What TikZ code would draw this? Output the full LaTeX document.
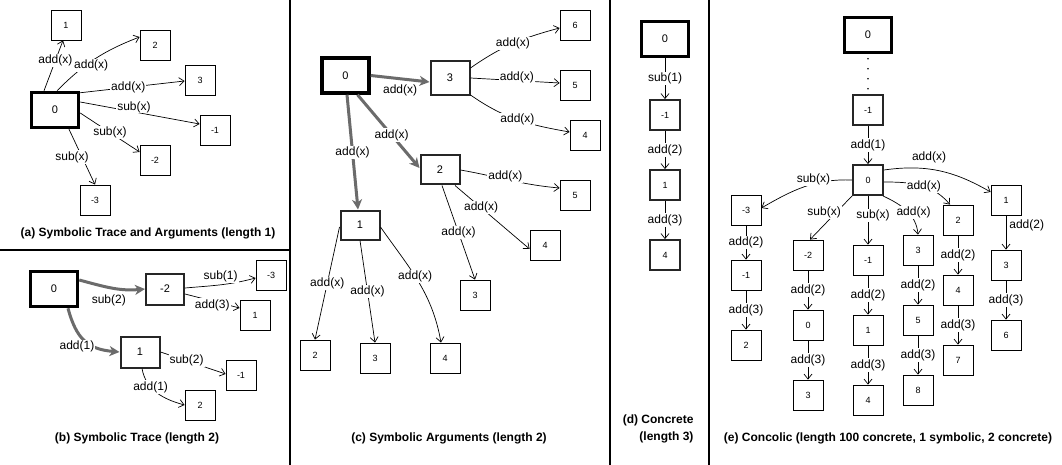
\documentclass[tikz,border=0pt]{standalone}
\usepackage{fontspec}
\setmainfont{Liberation Sans}
\usetikzlibrary{arrows.meta}
\definecolor{garrow}{HTML}{6B6B6B}
\begin{document}
\begin{tikzpicture}[x=1pt,y=1pt,
 box/.style={draw, line width=.8pt, minimum width=30pt, minimum height=30pt, inner sep=0pt, font=\fontsize{9}{9}\selectfont},
 midbox/.style={box, line width=2pt, draw=black!85, font=\fontsize{11}{11}\selectfont},
 msbox/.style={box, line width=1.8pt, draw=black!85},
 rootbox/.style={box, line width=3.5pt, minimum width=47pt, minimum height=35pt, font=\fontsize{11}{11}\selectfont},
 arr/.style={line width=.7pt, -{Straight Barb[length=5pt,width=8pt]}},
 garr/.style={draw=garrow, line width=3pt, -{Stealth[length=10pt,width=10pt,inset=3pt]}},
 lbl/.style={fill=white, inner sep=1pt, font=\fontsize{12}{12}\selectfont},
 captext/.style={font=\fontsize{12}{17}\selectfont\bfseries},
 divline/.style={line width=1.2pt}]
\fill[white] (0,0) rectangle (1062,-465);
\useasboundingbox (0,0) rectangle (1062,-465);
% dividers
\draw[divline] (290,0) -- (290,-465);
\draw[divline] (0,-250) -- (290,-250);
\draw[divline] (610,0) -- (610,-465);
\draw[divline] (709,0) -- (709,-465);

% ---------- (a)
\node[rootbox] (a0) at (55,-110) {0};
\node[box] (a1) at (66,-25) {1};
\node[box] (a2) at (155,-45) {2};
\node[box] (a3) at (200,-80) {3};
\node[box] (am1) at (215,-130) {-1};
\node[box] (am2) at (155,-160) {-2};
\node[box] (am3) at (95,-200) {-3};
\draw[arr] ([xshift=-11pt]a0.north) -- node[lbl,pos=.6] (la1) {add(x)} ([xshift=-3pt]a1.south);
\draw[arr] ([xshift=2pt]a0.north) to[bend left=12] node[lbl,pos=.45,yshift=-4pt] (la2) {add(x)} ([yshift=8pt]a2.west);
\draw[arr] ([yshift=-2pt]a0.north east) -- node[lbl,pos=.46] (la3) {add(x)} ([yshift=-1pt]a3.west);
\draw[arr] ([yshift=8pt]a0.east) -- node[lbl,pos=.45,yshift=5pt] (la4) {sub(x)} ([yshift=6pt]am1.west);
\draw[arr] ([yshift=-3pt]a0.east) -- node[lbl,pos=.5] (la5) {sub(x)} ([yshift=8pt]am2.west);
\draw[arr] ([xshift=14pt]a0.south) -- node[lbl,pos=.5,xshift=-10pt] (la6) {sub(x)} (am3.north);
\node[captext] (capa) at (148,-233) {(a) Symbolic Trace and Arguments (length 1)};

% ---------- (b)
\node[rootbox] (b0) at (54,-289) {0};
\node[midbox, minimum width=38pt, minimum height=31pt] (bm2) at (165,-289) {-2};
\node[box] (bm3) at (271,-275) {-3};
\node[box] (b1r) at (255,-315) {1};
\node[midbox, minimum width=39pt, minimum height=31pt] (b1) at (140,-352) {1};
\node[box] (bm1) at (241,-375) {-1};
\node[box] (b2) at (200,-405) {2};
\draw[garr] ([yshift=9pt]b0.east) to[out=-15,in=185] node[lbl,pos=.45,below=5pt] (lb1) {sub(2)} (bm2.west);
\draw[garr] ([xshift=14pt]b0.south) to[out=-75,in=175,looseness=1.2] node[lbl,pos=.5,xshift=-8pt,yshift=-6pt] (lb2) {add(1)} (b1.west);
\draw[arr] ([yshift=1pt]bm2.east) to[out=5,in=195] node[lbl,pos=.5,above=1pt] (lb3) {sub(1)} ([yshift=-3pt]bm3.west);
\draw[arr] ([yshift=-5pt]bm2.east) -- node[lbl,pos=.5,yshift=-4pt] (lb4) {add(3)} ([yshift=7pt]b1r.west);
\draw[arr] (b1.east) -- node[lbl,pos=.4] (lb5) {sub(2)} ([yshift=1pt]bm1.west);
\draw[arr] ([xshift=2pt]b1.south) to[out=-80,in=165] node[lbl,pos=.35] (lb6) {add(1)} (b2.west);
\node[captext] (capb) at (137,-438) {(b) Symbolic Trace (length 2)};

% ---------- (c)
\node[rootbox] (c0) at (345.5,-75.5) {0};
\node[midbox, minimum width=39pt, minimum height=34pt] (c3) at (450,-78) {3};
\node[box] (c6) at (575,-25) {6};
\node[box] (c5a) at (575,-85) {5};
\node[box] (c4a) at (585,-135) {4};
\node[midbox, minimum width=39pt, minimum height=29pt] (c2) at (440,-170) {2};
\node[box] (c5b) at (575,-195) {5};
\node[midbox, minimum width=39pt, minimum height=29pt] (c1) at (360,-225) {1};
\node[box] (c4b) at (545,-245) {4};
\node[box] (c3b) at (475,-295) {3};
\node[box] (c2c) at (315,-355) {2};
\node[box] (c3c) at (375,-358) {3};
\node[box] (c4c) at (445,-358) {4};
\draw[garr] (c0.east) -- node[lbl,pos=.5,below=4pt] (lc1) {add(x)} ([yshift=-4pt]c3.west);
\draw[garr] ([xshift=12pt]c0.south) -- node[lbl,pos=.55] (lc2) {add(x)} ([yshift=2pt]c2.west);
\draw[garr] ([xshift=1.5pt]c0.south) -- node[lbl,pos=.5] (lc3) {add(x)} ([xshift=-2pt]c1.north);
\draw[arr] ([yshift=10pt]c3.east) to[out=35,in=195] node[lbl,pos=.5] (lc4) {add(x)} ([yshift=-3pt]c6.west);
\draw[arr] (c3.east) -- node[lbl,pos=.52,yshift=3pt] (lc5) {add(x)} ([yshift=2pt]c5a.west);
\draw[arr] ([yshift=1pt]c3.south east) to[out=-35,in=170] node[lbl,pos=.5] (lc6) {add(x)} ([yshift=3pt]c4a.west);
\draw[arr] (c2.east) to[out=-10,in=175] node[lbl,pos=.45,yshift=3pt] (lc7) {add(x)} ([yshift=7pt]c5b.west);
\draw[arr] ([xshift=15pt]c2.south) -- node[lbl,pos=.35] (lc8) {add(x)} ([yshift=-4pt]c4b.west);
\draw[arr] ([xshift=2pt]c2.south) -- node[lbl,pos=.5] (lc9) {add(x)} (c3b.north);
\draw[arr] ([yshift=-2pt]c1.west) -- node[lbl,pos=.5] (lc10) {add(x)} (c2c.north);
\draw[arr] (c1.south) -- node[lbl,pos=.5] (lc11) {add(x)} (c3c.north);
\draw[arr] ([yshift=-2pt]c1.east) to[out=-55,in=100] node[lbl,pos=.45] (lc12) {add(x)} ([xshift=-4pt]c4c.north);
\node[captext] (capc) at (449,-438) {(c) Symbolic Arguments (length 2)};

% ---------- (d)
\node[rootbox] (d0) at (665,-39) {0};
\node[msbox] (dm1) at (665,-115) {-1};
\node[msbox] (d1) at (665,-185) {1};
\node[msbox] (d4) at (665,-255) {4};
\draw[arr] (d0.south) -- node[lbl,pos=.5] (ld1) {sub(1)} (dm1.north);
\draw[arr] (dm1.south) -- node[lbl,pos=.5] (ld2) {add(2)} (d1.north);
\draw[arr] (d1.south) -- node[lbl,pos=.5] (ld3) {add(3)} (d4.north);
\node[captext, align=right, anchor=east] (capd) at (697,-428.5) {(d) Concrete\\(length 3)};

% ---------- (e)
\node[rootbox] (e0) at (868,-35) {0};
\node[msbox] (em1) at (868,-110) {-1};
\node[msbox] (ez) at (868,-180) {0};
\draw[line width=1.8pt, line cap=round, dash pattern=on 0pt off 10pt] ([yshift=-4.5pt]e0.south) -- (em1.north);
\draw[arr] (em1.south) -- node[lbl,pos=.5] (le0) {add(1)} (ez.north);
\node[box] (e1a) at (746,-210) {-3};
\node[box] (e1b) at (746,-275) {-1};
\node[box] (e1c) at (746,-345) {2};
\node[box] (e2a) at (808,-255) {-2};
\node[box] (e2b) at (808,-325) {0};
\node[box] (e2c) at (808,-395) {3};
\node[box] (e3a) at (868,-260) {-1};
\node[box] (e3b) at (868,-330) {1};
\node[box] (e3c) at (868,-400) {4};
\node[box] (e4a) at (918,-250) {3};
\node[box] (e4b) at (918,-320) {5};
\node[box] (e4c) at (918,-390) {8};
\node[box] (e5a) at (958,-220) {2};
\node[box] (e5b) at (958,-290) {4};
\node[box] (e5c) at (958,-360) {7};
\node[box] (e6a) at (1006,-200) {1};
\node[box] (e6b) at (1006,-265) {3};
\node[box] (e6c) at (1006,-335) {6};
\draw[arr] (ez.west) to[out=178,in=30] node[lbl,pos=.4,yshift=5pt] (le1) {sub(x)} ([yshift=2pt]e1a.east);
\draw[arr] (ez.south west) -- node[lbl,pos=.38,xshift=-12pt] (le2) {sub(x)} ([xshift=2pt]e2a.north);
\draw[arr] (ez.south) -- node[lbl,pos=.4,xshift=5pt] (le3) {sub(x)} (e3a.north);
\draw[arr] ([xshift=-1pt]ez.south east) to[out=-25,in=95] node[lbl,pos=.55,xshift=5pt] (le4) {add(x)} (e4a.north);
\draw[arr] ([yshift=-2pt]ez.east) to[out=0,in=130] node[lbl,pos=.55] (le5) {add(x)} ([xshift=-8pt]e5a.north);
\draw[arr] ([yshift=10pt]ez.east) to[out=8,in=150] node[lbl,pos=.4,above=5pt] (le6) {add(x)} ([yshift=8pt]e6a.west);
\draw[arr] (e1a.south) -- node[lbl] (l11) {add(2)} (e1b.north);
\draw[arr] (e1b.south) -- node[lbl] (l12) {add(3)} (e1c.north);
\draw[arr] (e2a.south) -- node[lbl] (l21) {add(2)} (e2b.north);
\draw[arr] (e2b.south) -- node[lbl] (l22) {add(3)} (e2c.north);
\draw[arr] (e3a.south) -- node[lbl] (l31) {add(2)} (e3b.north);
\draw[arr] (e3b.south) -- node[lbl] (l32) {add(3)} (e3c.north);
\draw[arr] (e4a.south) -- node[lbl] (l41) {add(2)} (e4b.north);
\draw[arr] (e4b.south) -- node[lbl] (l42) {add(3)} (e4c.north);
\draw[arr] (e5a.south) -- node[lbl] (l51) {add(2)} (e5b.north);
\draw[arr] (e5b.south) -- node[lbl] (l52) {add(3)} (e5c.north);
\draw[arr] (e6a.south) -- node[lbl,pos=.3,right=2pt] (l61) {add(2)} (e6b.north);
\draw[arr] (e6b.south) -- node[lbl] (l62) {add(3)} (e6c.north);
\node[captext] (cape) at (888,-438) {(e) Concolic (length 100 concrete, 1 symbolic, 2 concrete)};
\end{tikzpicture}
\end{document}
